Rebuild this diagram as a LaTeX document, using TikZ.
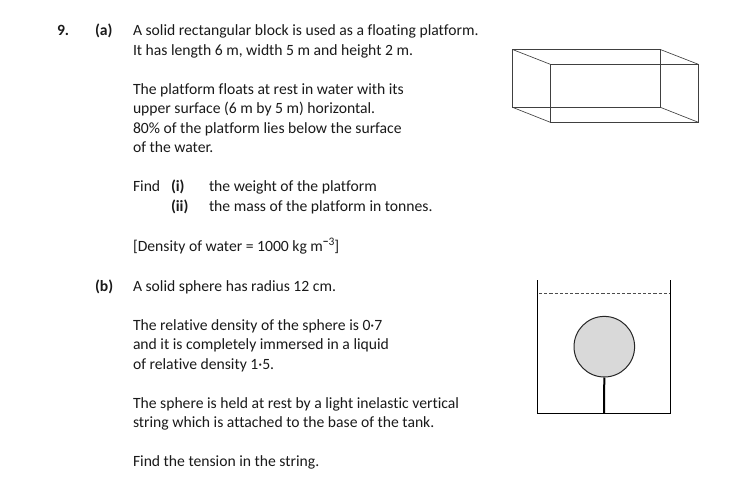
\documentclass[tikz,border=0pt]{standalone}
\usepackage{fontspec}
\setmainfont{Carlito}[Ligatures=NoCommon]
\definecolor{ink}{HTML}{1A1A1A}
\tikzset{
  txt/.style={anchor=base west,inner sep=0pt,outer sep=0pt,font=\fontsize{15.65}{18}\selectfont,text=ink},
  bld/.style={txt,font=\fontsize{15.65}{18}\selectfont\bfseries},
  edge/.style={draw=black!75,line width=0.65pt},
  wall/.style={draw=black,line width=0.95pt}
}
\begin{document}
\begin{tikzpicture}[x=1pt,y=-1pt]
\useasboundingbox (0,0) rectangle (754,497);
\fill[white] (0,0) rectangle (754,497);
\node[bld] (q9) at (57,35.5) {9.};
\node[bld] (pa) at (95,35.5) {(a)};
\node[txt] (l1) at (133,35.5) {A solid rectangular block is used as a floating platform.};
\node[txt] (l2) at (133,55.5) {It has length 6 m, width 5 m and height 2 m.};
\node[txt] (l3) at (133,94.5) {The platform floats at rest in water with its};
\node[txt] (l4) at (133,114) {upper surface (6 m by 5 m) horizontal.};
\node[txt] (l5) at (133,133.5) {80\% of the platform lies below the surface};
\node[txt] (l6) at (133,152.5) {of the water.};
\node[txt] (l7) at (133,191) {Find};
\node[bld] (pi) at (171,191) {(i)};
\node[txt] (l8) at (209,191) {the weight of the platform};
\node[bld] (pii) at (171,211) {(ii)};
\node[txt] (l9) at (209,211) {the mass of the platform in tonnes.};
\node[txt] (l10) at (133,251) {[Density of water = 1000 kg m\raisebox{5.5pt}{\fontsize{11.5}{12}\selectfont\bfseries −\mdseries3}]};
\node[bld] (pb) at (95,291) {(b)};
\node[txt] (l11) at (133,291) {A solid sphere has radius 12 cm.};
\node[txt] (l12) at (133,330) {The relative density of the sphere is 0·7};
\node[txt] (l13) at (133,349) {and it is completely immersed in a liquid};
\node[txt] (l14) at (133,369) {of relative density 1·5.};
\node[txt] (l15) at (133,408) {The sphere is held at rest by a light inelastic vertical};
\node[txt] (l16) at (133,427) {string which is attached to the base of the tank.};
\node[txt] (l17) at (133,466.5) {Find the tension in the string.};
% block
\coordinate (btl) at (512.5,49.5);
\coordinate (btr) at (660.3,49.5);
\coordinate (bbl) at (512.5,107.3);
\coordinate (bbr) at (660.3,107.3);
\coordinate (ftl) at (550.3,64.3);
\coordinate (ftr) at (698.3,64.3);
\coordinate (fbl) at (550.3,122.3);
\coordinate (fbr) at (698.3,122.3);
\draw[edge] (btl) -- (btr) -- (bbr) -- (bbl) -- cycle;
\draw[edge] (ftl) -- (ftr) -- (fbr) -- (fbl) -- cycle;
\draw[edge] (btl) -- (ftl) (btr) -- (ftr) (bbl) -- (fbl) (bbr) -- (fbr);
% tank
\coordinate (tl) at (537.3,280);
\coordinate (tr) at (670.3,280);
\coordinate (bl) at (537.3,413.3);
\coordinate (br) at (670.3,413.3);
\coordinate (base) at (604,413.3);
\coordinate (wl) at (539,293.7);
\coordinate (wr) at (670,293.7);
\draw[wall] (tl) -- (bl) -- (br) -- (tr);
\draw[draw=black!70,line width=0.9pt,dash pattern=on 3.2pt off 2pt] (wl) -- (wr);
\node[circle,draw=black!85,line width=1pt,fill=black!15,minimum size=60.6pt,inner sep=0pt] (sphere) at (604.3,346.7) {};
\draw[black,line width=2pt] (sphere.south) -- (base);
\end{tikzpicture}
\end{document}
